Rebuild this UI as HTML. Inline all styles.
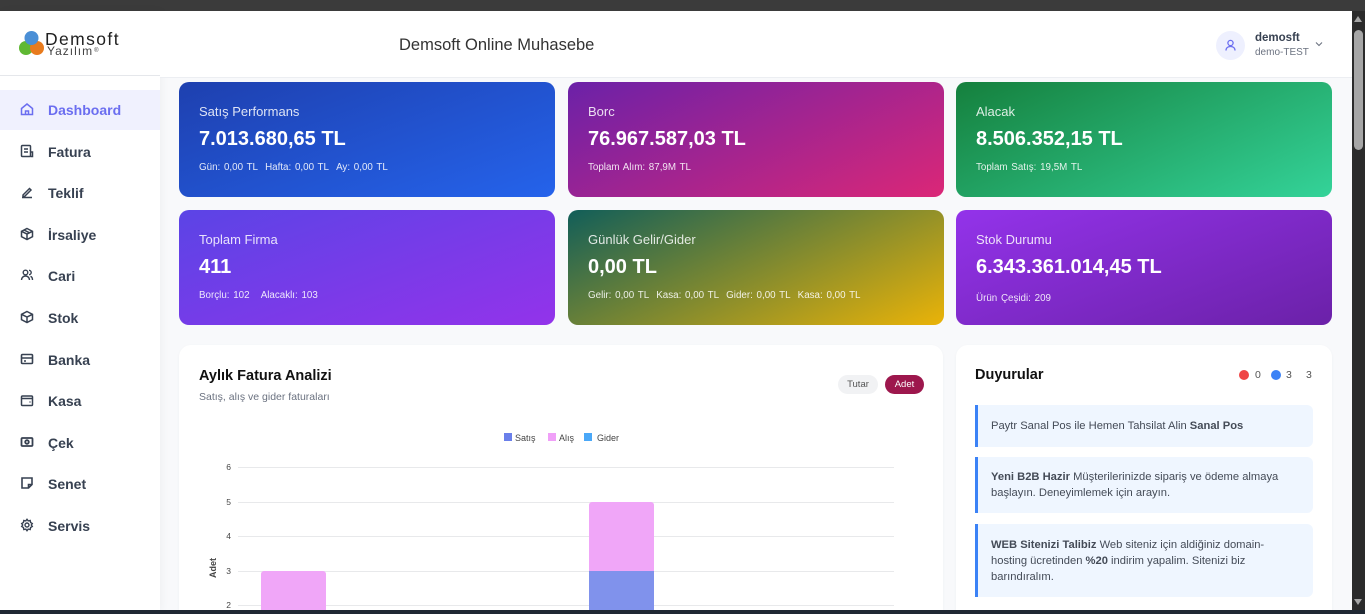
<!DOCTYPE html>
<html><head><meta charset="utf-8">
<style>
*{margin:0;padding:0;box-sizing:border-box}
html,body{width:1365px;height:614px;overflow:hidden;background:#f8f9fb;font-family:"Liberation Sans",sans-serif}
.topbar{position:absolute;left:0;top:0;width:1365px;height:11px;background:#3b3b3b}
.botbar{position:absolute;left:0;top:610px;width:1365px;height:4px;background:#1f2833;z-index:10}
.sb{position:absolute;left:1352px;top:11px;width:13px;height:600px;background:#2b2b2b;z-index:9}
.sb .thumb{position:absolute;left:2px;top:19px;width:9px;height:120px;background:#a6a6a6;border-radius:5px}
.sb .up{position:absolute;left:2px;top:5px;width:0;height:0;border-left:4.5px solid transparent;border-right:4.5px solid transparent;border-bottom:6px solid #a6a6a6}
.sb .down{position:absolute;left:2px;bottom:6px;width:0;height:0;border-left:4.5px solid transparent;border-right:4.5px solid transparent;border-top:6px solid #a6a6a6}
.side{position:absolute;left:0;top:11px;width:160px;height:600px;background:#fff;box-shadow:2px 0 8px rgba(0,0,0,.04)}
.logo{height:65px;border-bottom:1px solid #e5e7eb;position:relative}
.nav{position:absolute;left:0;width:160px;height:40px;display:flex;align-items:center;font-size:14px;font-weight:bold;color:#374151}
.nav svg{position:absolute;left:20px;top:12px}
.nav span{position:absolute;left:48px}
.nav.act{background:#f0f1fe;color:#6b6ef0}
.header{position:absolute;left:160px;top:11px;width:1192px;height:67px;background:#fff;border-bottom:1px solid #eceef2}
.card{position:absolute;width:376px;height:115px;border-radius:10px;color:#fff}
.card .t{position:absolute;left:20px;top:22px;font-size:13px;color:rgba(255,255,255,.85)}
.card .v{position:absolute;left:20px;top:46px;font-size:20px;font-weight:bold}
.card .s{position:absolute;left:20px;top:80px;font-size:9.8px;color:rgba(255,255,255,.88);word-spacing:1px}
.panel{position:absolute;top:345px;height:265px;background:#fff;border-radius:12px 12px 0 0;box-shadow:0 1px 3px rgba(0,0,0,.04);overflow:hidden}
.ann{position:absolute;left:19px;width:338px;background:#eff6ff;border-left:3px solid #3b82f6;border-radius:0 6px 6px 0;font-size:11.2px;color:#444b57;line-height:16px;padding:0 18px 0 13px}
</style></head><body>
<div class="topbar"></div>
<div class="side">
  <div class="logo">
    <svg width="30" height="34" style="position:absolute;left:17px;top:16px">
      <circle cx="9" cy="21" r="7" fill="#5fb833"/>
      <circle cx="20" cy="21" r="7" fill="#e87b1e"/>
      <circle cx="14.5" cy="11" r="7" fill="#4a8fd6"/>
    </svg>
    <div style="position:absolute;left:45px;top:18px;font-size:17.5px;color:#1f1f1f;letter-spacing:1.4px;line-height:20px">Demsoft</div>
    <div style="position:absolute;left:47px;top:33px;font-size:12px;color:#444;letter-spacing:1px;line-height:14px">Yazılım<span style="font-size:6px;vertical-align:top;margin-left:1px">®</span></div>
  </div>
  <div class="nav act" style="top:79px"><svg width="14" height="14" viewBox="0 0 14 14" fill="none" stroke="#6b6ef0" stroke-width="1.5"><path d="M1.5 6.5L7 2l5.5 4.5V12.5h-11z M5.5 12.5V9h3v3.5"/></svg><span>Dashboard</span></div>
  <div class="nav" style="top:121px"><svg width="14" height="14" viewBox="0 0 14 14" fill="none" stroke="#374151" stroke-width="1.5"><rect x="1.5" y="1.5" width="9" height="11" rx="1"/><path d="M4 5h4M4 8h4M10.5 8h2v4.5h-2"/></svg><span>Fatura</span></div>
  <div class="nav" style="top:162px"><svg width="14" height="14" viewBox="0 0 14 14" fill="none" stroke="#374151" stroke-width="1.5"><path d="M2 12.5h10M3 10l6.5-6.5 1.5 1.5L4.5 11.5H3z"/></svg><span>Teklif</span></div>
  <div class="nav" style="top:204px"><svg width="14" height="14" viewBox="0 0 14 14" fill="none" stroke="#374151" stroke-width="1.5"><path d="M7 1.5l5.5 2.8v5.4L7 12.5 1.5 9.7V4.3z M1.5 4.3L7 7l5.5-2.7 M7 7v5.5 M4 3l5.5 2.8"/></svg><span>İrsaliye</span></div>
  <div class="nav" style="top:245px"><svg width="14" height="14" viewBox="0 0 14 14" fill="none" stroke="#374151" stroke-width="1.4"><circle cx="5.5" cy="4.5" r="2.3"/><path d="M1.5 12c0-2.5 2-4 4-4s4 1.5 4 4M9 2.3a2.2 2.2 0 010 4.4M10.5 8.3c1.3.5 2 1.8 2 3.7"/></svg><span>Cari</span></div>
  <div class="nav" style="top:287px"><svg width="14" height="14" viewBox="0 0 14 14" fill="none" stroke="#374151" stroke-width="1.5"><path d="M7 1.5l5.5 2.8v5.4L7 12.5 1.5 9.7V4.3z M1.5 4.3L7 7l5.5-2.7 M7 7v5.5"/></svg><span>Stok</span></div>
  <div class="nav" style="top:329px"><svg width="14" height="14" viewBox="0 0 14 14" fill="none" stroke="#374151" stroke-width="1.6"><rect x="1.5" y="2.5" width="11" height="9" rx="1"/><path d="M1.5 6h11M4 9h2"/></svg><span>Banka</span></div>
  <div class="nav" style="top:370px"><svg width="14" height="14" viewBox="0 0 14 14" fill="none" stroke="#374151" stroke-width="1.5"><rect x="1.5" y="3" width="11" height="9.5" rx="1"/><path d="M1.5 5.5h11M10 8.5v1"/></svg><span>Kasa</span></div>
  <div class="nav" style="top:412px"><svg width="14" height="14" viewBox="0 0 14 14" fill="none" stroke="#374151" stroke-width="1.8"><rect x="1.5" y="3" width="11" height="8" rx="1"/><circle cx="7" cy="7" r="1.8"/></svg><span>Çek</span></div>
  <div class="nav" style="top:453px"><svg width="14" height="14" viewBox="0 0 14 14" fill="none" stroke="#374151" stroke-width="1.6"><path d="M2 2h10v6.5L8.5 12H2z M8.5 12V8.5H12"/></svg><span>Senet</span></div>
  <div class="nav" style="top:495px"><svg width="14" height="14" viewBox="0 0 14 14" fill="none" stroke="#374151" stroke-width="1.4"><circle cx="7" cy="7" r="2"/><path d="M7 1.3l1.2 1.6 2-.4.4 2 1.7 1.1-1 1.4 1 1.4-1.7 1.1-.4 2-2-.4L7 12.7l-1.2-1.6-2 .4-.4-2L1.7 8.4l1-1.4-1-1.4 1.7-1.1.4-2 2 .4z"/></svg><span>Servis</span></div>
</div>
<div class="header">
  <div style="position:absolute;left:239px;top:25px;font-size:16.5px;color:#333">Demsoft Online Muhasebe</div>
  <div style="position:absolute;left:1056px;top:20px;width:29px;height:29px;border-radius:50%;background:#eef0fe">
    <svg width="29" height="29" viewBox="0 0 29 29" fill="none" stroke="#6b6ef0" stroke-width="1.3"><circle cx="14.5" cy="12" r="2.6"/><path d="M10 19.5c0-2.6 2-4 4.5-4s4.5 1.4 4.5 4"/></svg>
  </div>
  <div style="position:absolute;left:1095px;top:21px;font-size:11.5px;font-weight:bold;color:#374151">demosft</div>
  <div style="position:absolute;left:1095px;top:36px;font-size:10px;color:#6b7280">demo-TEST</div>
  <svg style="position:absolute;left:1155px;top:30px" width="8" height="6" viewBox="0 0 8 6" fill="none" stroke="#6b7280" stroke-width="1.1"><path d="M1 1.5l3 3 3-3"/></svg>
</div>

<div class="card" style="left:179px;top:82px;background:linear-gradient(160deg,#1e40af,#2563eb)"><div class="t">Satış Performans</div><div class="v">7.013.680,65 TL</div><div class="s">Gün: 0,00 TL &nbsp;Hafta: 0,00 TL &nbsp;Ay: 0,00 TL</div></div>
<div class="card" style="left:568px;top:82px;background:linear-gradient(155deg,#6b21a8,#db2777)"><div class="t">Borc</div><div class="v">76.967.587,03 TL</div><div class="s">Toplam Alım: 87,9M TL</div></div>
<div class="card" style="left:956px;top:82px;background:linear-gradient(155deg,#15803d,#34d399)"><div class="t">Alacak</div><div class="v">8.506.352,15 TL</div><div class="s">Toplam Satış: 19,5M TL</div></div>

<div class="card" style="left:179px;top:210px;background:linear-gradient(160deg,#5b44e6,#9333ea)"><div class="t">Toplam Firma</div><div class="v">411</div><div class="s">Borçlu: 102 &nbsp;&nbsp;Alacaklı: 103</div></div>
<div class="card" style="left:568px;top:210px;background:linear-gradient(155deg,#115e59,#eab308)"><div class="t">Günlük Gelir/Gider</div><div class="v">0,00 TL</div><div class="s">Gelir: 0,00 TL &nbsp;Kasa: 0,00 TL &nbsp;Gider: 0,00 TL &nbsp;Kasa: 0,00 TL</div></div>
<div class="card" style="left:956px;top:210px;background:linear-gradient(160deg,#9333ea,#6b21a8)"><div class="t">Stok Durumu</div><div class="v">6.343.361.014,45 TL</div><div class="s" style="top:83px">Ürün Çeşidi: 209</div></div>

<div class="panel" style="left:179px;width:764px">
  <div style="position:absolute;left:20px;top:23px;font-size:14.5px;font-weight:bold;color:#111">Aylık Fatura Analizi</div>
  <div style="position:absolute;left:20px;top:46px;font-size:10.5px;color:#6b7280">Satış, alış ve gider faturaları</div>
  <div style="position:absolute;left:659px;top:30px;width:40px;height:19px;border-radius:10px;background:#f1f2f4;font-size:9.5px;color:#555;text-align:center;line-height:19px">Tutar</div>
  <div style="position:absolute;left:706px;top:30px;width:39px;height:19px;border-radius:10px;background:#9d174d;font-size:9.5px;color:#fff;text-align:center;line-height:19px">Adet</div>
  <svg style="position:absolute;left:0;top:0" width="764" height="280">
    <g font-family="Liberation Sans" font-size="9" fill="#444">
      <rect x="325" y="88" width="8" height="8" fill="#6a7fea"/><text x="336" y="96">Satış</text>
      <rect x="369" y="88" width="8" height="8" fill="#f0a0f8"/><text x="380" y="96">Alış</text>
      <rect x="405" y="88" width="8" height="8" fill="#4aa8f8"/><text x="418" y="96">Gider</text>
    </g>
    <g stroke="#e8e9eb" stroke-width="1">
      <line x1="59" y1="122.5" x2="715" y2="122.5"/>
      <line x1="59" y1="157.5" x2="715" y2="157.5"/>
      <line x1="59" y1="191.5" x2="715" y2="191.5"/>
      <line x1="59" y1="226.5" x2="715" y2="226.5"/>
      <line x1="59" y1="260.5" x2="715" y2="260.5"/>
    </g>
    <g font-family="Liberation Sans" font-size="8.5" fill="#444" text-anchor="end">
      <text x="52" y="125">6</text><text x="52" y="160">5</text><text x="52" y="194">4</text><text x="52" y="229">3</text><text x="52" y="263">2</text>
    </g>
    <text transform="translate(37,223) rotate(-90)" font-family="Liberation Sans" font-size="9" font-weight="bold" fill="#444" text-anchor="middle">Adet</text>
    <path d="M82 280V229a3 3 0 013-3h59a3 3 0 013 3v51z" fill="#f0a6f8"/>
    <path d="M410 226V160a3 3 0 013-3h59a3 3 0 013 3v66z" fill="#f0a6f8"/>
    <rect x="410" y="226" width="65" height="60" fill="#8092ec"/>
  </svg>
</div>

<div class="panel" style="left:956px;width:376px">
  <div style="position:absolute;left:19px;top:22px;font-size:14.5px;font-weight:bold;color:#111">Duyurular</div>
  <div style="position:absolute;left:283px;top:25px;width:10px;height:10px;border-radius:50%;background:#ef4444"></div>
  <div style="position:absolute;left:299px;top:24px;font-size:10.5px;color:#555">0</div>
  <div style="position:absolute;left:315px;top:25px;width:10px;height:10px;border-radius:50%;background:#3b82f6"></div>
  <div style="position:absolute;left:330px;top:24px;font-size:10.5px;color:#555">3</div>
  <div style="position:absolute;left:350px;top:24px;font-size:10.5px;color:#555">3</div>
  <div class="ann" style="top:60px;height:42px;padding-top:13px">Paytr Sanal Pos ile Hemen Tahsilat Alin <b>Sanal Pos</b></div>
  <div class="ann" style="top:112px;height:56px;padding-top:12px"><b>Yeni B2B Hazir</b> Müşterilerinizde sipariş ve ödeme almaya başlayın. Deneyimlemek için arayın.</div>
  <div class="ann" style="top:179px;height:73px;padding-top:13px"><b>WEB Sitenizi Talibiz</b> Web siteniz için aldiğiniz domain-<br>hosting ücretinden <b>%20</b> indirim yapalim. Sitenizi biz barındıralım.</div>
</div>

<div class="sb"><div class="up"></div><div class="thumb"></div><div class="down"></div></div>
<div class="botbar"></div>
</body></html>
